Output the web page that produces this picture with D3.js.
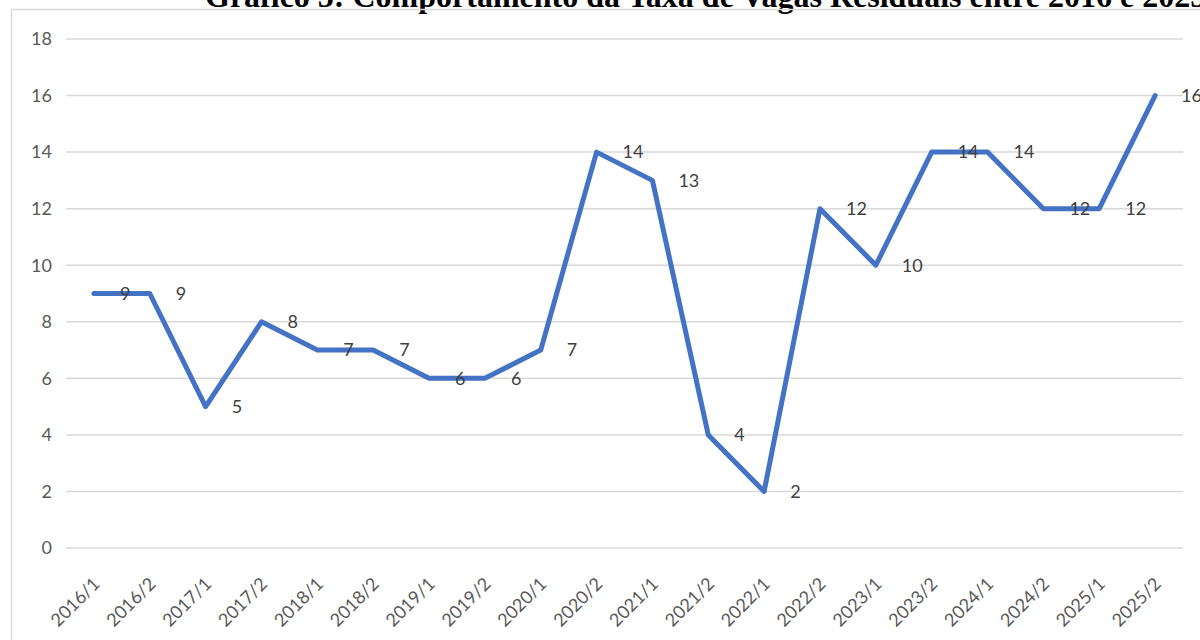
<!DOCTYPE html>
<html>
<head>
<meta charset="utf-8">
<script src="https://cdn.jsdelivr.net/npm/d3@7"></script>
<style>
  html, body { margin: 0; padding: 0; background: #fff; overflow: hidden; }
  svg { display: block; }
  .tick-label { font-family: Lato, "Open Sans", sans-serif; font-size: 18px; fill: #595959; }
  .data-label { font-family: Lato, "Open Sans", sans-serif; font-size: 18px; fill: #404040; }
</style>
</head>
<body>
<div id="chart"></div>
<script>
// Data
const periods = ['2016/1', '2016/2', '2017/1', '2017/2', '2018/1', '2018/2', '2019/1', '2019/2', '2020/1', '2020/2',
                 '2021/1', '2021/2', '2022/1', '2022/2', '2023/1', '2023/2', '2024/1', '2024/2', '2025/1', '2025/2'];
const rates = [9, 9, 5, 8, 7, 7, 6, 6, 7, 14, 13, 4, 2, 12, 10, 14, 14, 12, 12, 16];
const yTicks = [0, 2, 4, 6, 8, 10, 12, 14, 16, 18];
const titleText = 'Gráfico 5: Comportamento da Taxa de Vagas Residuais entre 2016 e 2025';

const width = 1200, height = 640;
const plot = { left: 66, right: 1183, top: 39, bottom: 548 };

const svg = d3.select('#chart').append('svg')
  .attr('width', width)
  .attr('height', height);

// Title (cut off at the top and right in the source)
svg.append('text')
  .attr('x', 205)
  .attr('y', 7)
  .attr('font-family', '"Liberation Serif", "Times New Roman", serif')
  .attr('font-weight', 'bold')
  .attr('font-size', 32)
  .attr('fill', '#000')
  .text(titleText);

// Chart area border
svg.append('rect')
  .attr('x', 11.5)
  .attr('y', 9.5)
  .attr('width', width)
  .attr('height', height)
  .attr('fill', 'none')
  .attr('stroke', '#d9d9d9')
  .attr('stroke-width', 1.5);

// Scales
const x = d3.scaleBand()
  .domain(periods)
  .range([plot.left, plot.right])
  .padding(0);

const y = d3.scaleLinear()
  .domain([0, 18])
  .range([plot.bottom, plot.top]);

const cx = d => x(d) + x.bandwidth() / 2;

// Gridlines
svg.append('g')
  .selectAll('line')
  .data(yTicks)
  .join('line')
  .attr('x1', plot.left)
  .attr('x2', plot.right)
  .attr('y1', d => y(d))
  .attr('y2', d => y(d))
  .attr('stroke', '#d9d9d9')
  .attr('stroke-width', 1.5);

// Y axis labels
svg.append('g')
  .selectAll('text')
  .data(yTicks)
  .join('text')
  .attr('class', 'tick-label')
  .attr('x', 52)
  .attr('y', d => y(d))
  .attr('dy', '0.35em')
  .attr('text-anchor', 'end')
  .text(d => d);

// X axis labels, rotated
svg.append('g')
  .selectAll('text')
  .data(periods)
  .join('text')
  .attr('class', 'tick-label')
  .attr('text-anchor', 'end')
  .attr('transform', d => `translate(${cx(d) + 7},${585}) rotate(-45)`)
  .text(d => d);

// Line
const line = d3.line()
  .x((d, i) => cx(periods[i]))
  .y(d => y(d));

svg.append('path')
  .datum(rates)
  .attr('d', line)
  .attr('fill', 'none')
  .attr('stroke', '#4472c4')
  .attr('stroke-width', 5)
  .attr('stroke-linejoin', 'round')
  .attr('stroke-linecap', 'round');

// Data labels (right of each point)
svg.append('g')
  .selectAll('text')
  .data(rates)
  .join('text')
  .attr('class', 'data-label')
  .attr('x', (d, i) => cx(periods[i]) + 26)
  .attr('y', d => y(d))
  .attr('dy', '0.35em')
  .text(d => d);
</script>
</body>
</html>
